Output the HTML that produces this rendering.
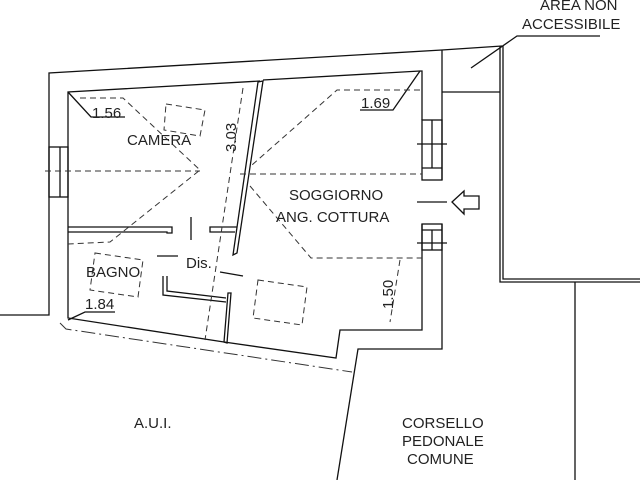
<!DOCTYPE html>
<html><head><meta charset="utf-8"><style>
html,body{margin:0;padding:0;background:#fff;}
svg{display:block;}
text{font-family:"Liberation Sans",sans-serif;font-size:14px;fill:#222;}
.b{font-size:15px;}
</style></head><body>
<svg width="640" height="480" viewBox="0 0 640 480" xmlns="http://www.w3.org/2000/svg">
<g stroke="#111" stroke-width="1.3" fill="none">
<polyline points="0,315 49,315 49,73 442,50 502,46"/>
<line x1="442" y1="50" x2="442" y2="180"/>
<polyline points="442,224 442,349 358,349 337,480"/>
<polyline points="224,342 68,318 68,92 260,81"/>
<polyline points="263,80 420,71 422,71 422,120"/>
<polyline points="422,224 422,330 340,330 336,358 224,342"/>
<rect x="49" y="147" width="19" height="50"/>
<line x1="60" y1="147" x2="60" y2="197"/>
<rect x="422" y="120" width="20" height="60"/>
<line x1="432" y1="120" x2="432" y2="168"/>
<line x1="422" y1="168" x2="442" y2="168"/>
<line x1="417" y1="144" x2="447" y2="144"/>
<rect x="422" y="224" width="20" height="26"/>
<line x1="432" y1="230" x2="432" y2="250"/>
<line x1="422" y1="230" x2="442" y2="230"/>
<line x1="417" y1="243" x2="447" y2="243"/>
<line x1="417" y1="202" x2="447" y2="202"/>
<polygon points="258,82 263,81 237,253 233,255"/>
<polyline points="68,227 172,227 172,233 167,233 167,232 68,232"/>
<polyline points="237,227 210,227 210,232 235,232"/>
<line x1="191" y1="217" x2="191" y2="240"/>
<polyline points="163,276 163,295 226,302"/>
<polyline points="167,276 167,291 226,298"/>
<polygon points="228,293 231,293 227,343 224,342"/>
<line x1="157" y1="256" x2="178" y2="256"/>
<line x1="220" y1="272" x2="243" y2="276"/>
<polyline points="500,46 500,282 640,282"/>
<polyline points="503,46 503,279 640,279"/>
<line x1="575" y1="282" x2="575" y2="480"/>
<line x1="442" y1="92" x2="500" y2="92"/>
<polyline points="471,68 517,36 600,36"/>
<polygon points="452,202 464,191 464,196 479,196 479,209 464,209 464,214"/>
<polyline points="68,92 91,117 125,117"/>
<polyline points="420,71 393,110 360,110"/>
<polyline points="68,320 85,312 115,312"/>
</g>
<g stroke="#333" stroke-width="1" fill="none" stroke-dasharray="6,4">
<polyline points="80,98 123,98 200,170 110,242 68,244"/>
<line x1="45" y1="171" x2="200" y2="171"/>
<polygon points="166,104 205,110 200,136 164,130"/>
<line x1="243" y1="88" x2="205" y2="340"/>
<polyline points="420,90 337,90 252,165"/>
<line x1="240" y1="174" x2="422" y2="174"/>
<polyline points="250,186 311,258 422,258"/>
<line x1="400" y1="260" x2="390" y2="322"/>
<polygon points="95,253 143,260 138,297 90,290"/>
<polygon points="258,280 307,287 302,325 253,318"/>
<polyline points="60,323 66,329 352,372" stroke-dasharray="14,4,2,4"/>
</g>
<text class="b" x="127" y="145">CAMERA</text>
<text class="b" x="289" y="200">SOGGIORNO</text>
<text class="b" x="276" y="222">ANG. COTTURA</text>
<text class="b" x="86" y="277">BAGNO</text>
<text class="b" x="186" y="268">Dis.</text>
<text class="b" x="92" y="118">1.56</text>
<text class="b" x="361" y="108">1.69</text>
<text class="b" x="85" y="309">1.84</text>
<text class="b" transform="translate(236,152) rotate(-90)">3.03</text>
<text class="b" transform="translate(393,309) rotate(-90)">1.50</text>
<text class="b" x="134" y="428">A.U.I.</text>
<text class="b" x="402" y="428">CORSELLO</text>
<text class="b" x="402" y="446">PEDONALE</text>
<text class="b" x="407" y="464">COMUNE</text>
<text class="b" x="540" y="10">AREA NON</text>
<text class="b" x="522" y="29">ACCESSIBILE</text>
</svg>
</body></html>
